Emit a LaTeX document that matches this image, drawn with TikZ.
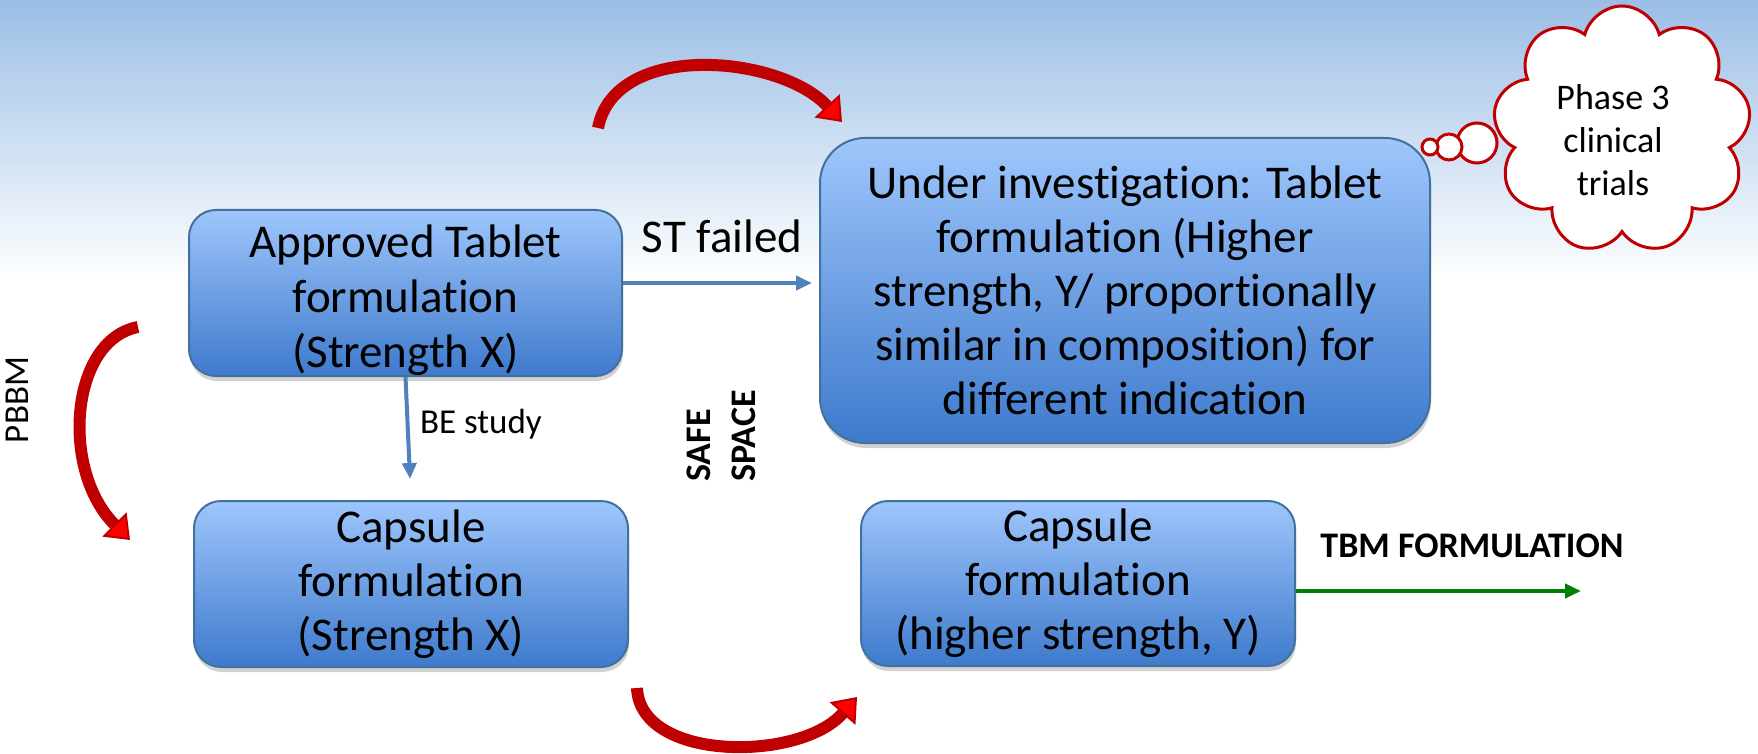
\documentclass[tikz,border=0pt]{standalone}
\usepackage{fontspec}
\setmainfont{Carlito}[Ligatures=NoCommon]
\usetikzlibrary{arrows.meta,shapes.symbols,shadows}
\definecolor{bgtop}{RGB}{155,190,230}
\definecolor{boxtop}{RGB}{158,198,252}
\definecolor{boxbot}{RGB}{62,122,204}
\definecolor{boxline}{RGB}{65,113,156}
\definecolor{arrblue}{RGB}{79,129,189}
\definecolor{darkred}{RGB}{192,0,0}
\definecolor{tbmgreen}{RGB}{0,128,0}
\begin{document}
\begin{tikzpicture}[x=1pt,y=-1pt,
  fbox/.style={draw=boxline,line width=2pt,top color=boxtop,bottom color=boxbot,
    rounded corners=27pt,align=center,inner sep=0pt,
    font=\fontsize{47}{54}\selectfont,
    drop shadow={shadow xshift=1pt,shadow yshift=-5pt,opacity=0.35}},
  bluearrow/.style={draw=arrblue,line width=4pt,-{Triangle[width=14pt,length=16pt]}},
  redarrow/.style={draw=darkred,line width=12pt,
    -{Triangle[width=34pt,length=22pt,line width=2pt,fill=red]}},
  lbl/.style={inner sep=0pt},
  bubble/.style={circle,draw=darkred,fill=white,line width=3pt,inner sep=0pt}]
\useasboundingbox (0,0) rectangle (1758,754);
\fill[white] (0,0) rectangle (1758,754);
\shade[top color=bgtop,bottom color=white] (0,0) rectangle (1758,280);

% boxes
\node[fbox,minimum width=433pt,minimum height=160pt] (A) at (405.5,293)
  {\rule{0pt}{48pt}Approved Tablet\\[1pt]formulation\\[1pt](Strength X)};
\node[fbox,rounded corners=45pt,minimum width=610pt,minimum height=305pt] (B) at (1125,290.5)
  {Under investigation: Tablet\\formulation (Higher\\strength, Y/ proportionally\\similar in composition) for\\different indication};
\node[fbox,minimum width=434pt,minimum height=166pt] (C) at (411,584)
  {Capsule\\formulation\\(Strength X)};
\node[fbox,minimum width=434pt,minimum height=165pt] (D) at (1078,583.5)
  {Capsule\\formulation\\(higher strength, Y)};

% straight connectors
\draw[bluearrow,shorten >=7pt] ([yshift=10pt]A.east) -- ([yshift=10pt]A.east -| B.west);
\node[lbl,anchor=base,font=\fontsize{47}{54}\selectfont] (st) at (722,252) {ST failed};
\draw[bluearrow,shorten >=21pt] (A.south) -- (C.north);
\node[lbl,anchor=base,font=\fontsize{35}{42}\selectfont] (be) at (481,433) {BE study};
\coordinate (tbmend) at (1581,591);
\draw[draw=tbmgreen,line width=4pt,-{Triangle[width=14pt,length=16pt]}] ([yshift=-7.5pt]D.east) -- (tbmend);
\node[lbl,font=\bfseries\fontsize{36}{44}\selectfont] (tbm) at (1472,546) {TBM FORMULATION};

% rotated labels
\node[lbl,rotate=90,font=\fontsize{35}{42}\selectfont] (pbbm) at (17,400) {PBBM};
\node[lbl,rotate=90,anchor=west,align=left,font=\bfseries\fontsize{36}{45}\selectfont] (safe) at (721,482) {SAFE\\SPACE};

% curved red arrows
\coordinate (t1) at (598,128);
\coordinate (t2) at (842,122);
\draw[redarrow] (t1) .. controls (615,40) and (780,55) .. (t2);
\coordinate (l1) at (138,327);
\coordinate (l2) at (130,540);
\draw[redarrow] (l1) .. controls (70,340) and (60,470) .. (l2);
\coordinate (b1) at (637,688);
\coordinate (b2) at (857,697);
\draw[redarrow] (b1) .. controls (640,762) and (800,762) .. (b2);

% thought cloud
\node[cloud,draw=darkred,fill=white,line width=3pt,cloud puffs=9,aspect=1,
  minimum width=258pt,minimum height=248pt] (cloud) at (1622,130) {};
\node[bubble,minimum size=40pt] (c3) at (1477,143) {};
\node[bubble,minimum size=26pt] (c2) at (1449,147) {};
\node[bubble,minimum size=16pt] (c1) at (1430,147) {};
\node[lbl,align=center,font=\fontsize{36}{43}\selectfont] (ctext) at (1613,140) {Phase 3\\clinical\\trials};
\end{tikzpicture}
\end{document}
